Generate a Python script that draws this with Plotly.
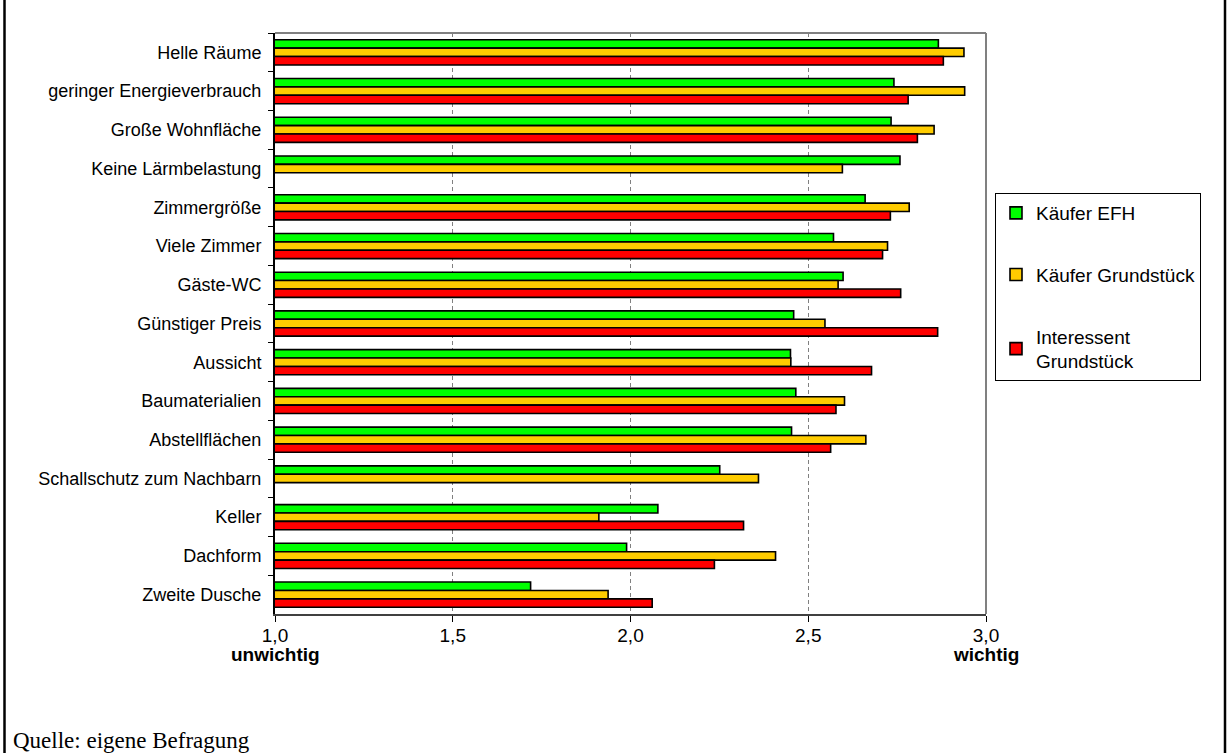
import plotly.graph_objects as go

categories = ["Helle Räume", "geringer Energieverbrauch", "Große Wohnfläche", "Keine Lärmbelastung",
              "Zimmergröße", "Viele Zimmer", "Gäste-WC", "Günstiger Preis", "Aussicht",
              "Baumaterialien", "Abstellflächen", "Schallschutz zum Nachbarn", "Keller",
              "Dachform", "Zweite Dusche"]
kaeufer_efh = [2.866, 2.741, 2.733, 2.758, 2.660, 2.571, 2.598, 2.459, 2.450, 2.465, 2.453, 2.251, 2.077, 1.989, 1.719]
kaeufer_grundstueck = [2.938, 2.940, 2.854, 2.596, 2.784, 2.723, 2.584, 2.547, 2.451, 2.602, 2.662, 2.360, 1.911, 2.408, 1.937]
interessent_grundstueck = [2.880, 2.781, 2.807, None, 2.731, 2.709, 2.760, 2.864, 2.678, 2.578, 2.563, None, 2.318, 2.236, 2.061]
series_names = ["Käufer EFH", "Käufer Grundstück", "Interessent<br>Grundstück"]
tick_vals = [1.0, 1.5, 2.0, 2.5, 3.0]
tick_text = ["1,0", "1,5", "2,0", "2,5", "3,0"]
scale_end_labels = ["unwichtig", "wichtig"]
scale_end_vals = [1.0, 3.0]

colors = ["#00FF00", "#FFCC00", "#FF0000"]
FONT = "Liberation Sans, Arial, sans-serif"

W, H = 1227, 753
L, R, T, B = 275, 241, 33, 139
pw, ph = W - L - R, H - T - B

fig = go.Figure()
for i, (name, vals) in enumerate(zip(series_names, [kaeufer_efh, kaeufer_grundstueck, interessent_grundstueck])):
    fig.add_trace(go.Bar(
        y=categories, x=vals, name=name, orientation="h",
        marker=dict(color=colors[i], line=dict(color="black", width=1.6)),
        legendgroup=f"g{i}",
    ))

def px_x(p):
    return (p - L) / pw

def px_y(p):
    return (H - B - p) / ph

shapes = [
    dict(type="line", xref="paper", yref="paper", x0=0, x1=1, y0=1, y1=1, line=dict(color="#808080", width=2)),
    dict(type="line", xref="paper", yref="paper", x0=1, x1=1, y0=0, y1=1, line=dict(color="#808080", width=2)),
    dict(type="line", xref="paper", yref="paper", x0=px_x(4.5), x1=px_x(4.5), y0=px_y(770), y1=px_y(-10),
         line=dict(color="black", width=2.5)),
    dict(type="line", xref="paper", yref="paper", x0=px_x(1225), x1=px_x(1225), y0=px_y(770), y1=px_y(-10),
         line=dict(color="black", width=2.5)),
]

annotations = [dict(
    text="Quelle: eigene Befragung", xref="paper", yref="paper",
    x=px_x(11), y=px_y(740), xanchor="left", yanchor="middle", showarrow=False,
    font=dict(family="Liberation Serif, Times New Roman, serif", size=23, color="black"),
)]
for lab, v in zip(scale_end_labels, scale_end_vals):
    annotations.append(dict(
        text=f"<b>{lab}</b>", xref="x", yref="paper", x=v, y=px_y(654),
        xanchor="center", yanchor="middle", showarrow=False,
        font=dict(family=FONT, size=19, color="black"),
    ))

fig.update_layout(
    width=W, height=H,
    margin=dict(l=L, r=R, t=T, b=B, autoexpand=False),
    paper_bgcolor="white", plot_bgcolor="white",
    barmode="group", bargap=0.35, bargroupgap=0,
    separators=",.",
    font=dict(family=FONT, size=18, color="black"),
    shapes=shapes,
    annotations=annotations,
    legend=dict(
        x=px_x(995), y=px_y(193), xanchor="left", yanchor="top",
        bordercolor="black", borderwidth=1, bgcolor="white",
        font=dict(family=FONT, size=19), tracegroupgap=34,
        traceorder="grouped", itemwidth=30,
    ),
)

fig.update_xaxes(
    range=[1, 3], tickvals=tick_vals, ticktext=tick_text,
    showgrid=True, gridcolor="#808080", griddash="4px,3px", gridwidth=1,
    showline=True, linecolor="#404040", linewidth=2,
    ticks="outside", ticklen=6, tickcolor="black",
    zeroline=False, tickfont=dict(size=19), ticklabelstandoff=-3,
)
fig.update_yaxes(
    autorange="reversed", type="category", tickson="boundaries",
    showline=True, linecolor="black", linewidth=2,
    ticks="outside", ticklen=5, tickcolor="black",
    ticklabelstandoff=8, showgrid=False, tickfont=dict(size=18),
)

fig.write_html("out.html", config={"displayModeBar": False},
               post_script="document.body.style.margin='0';document.body.style.overflow='hidden';")
